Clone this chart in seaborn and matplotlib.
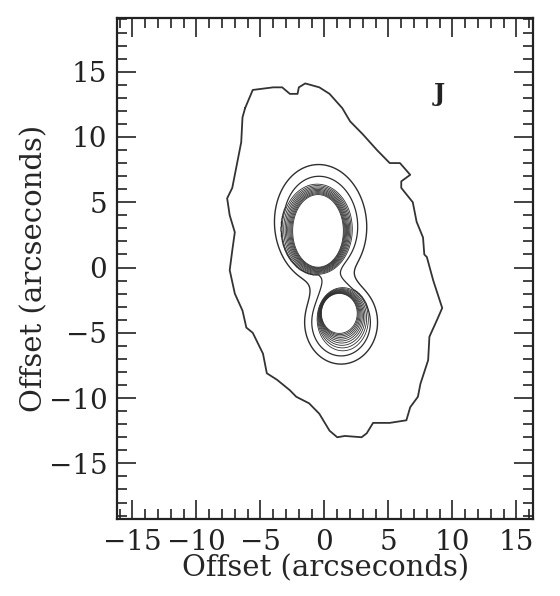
import numpy as np
import matplotlib
matplotlib.use("Agg")
import matplotlib.pyplot as plt
from matplotlib.ticker import MultipleLocator
import seaborn as sns

# ---- data (arcsec offsets) ----
# outermost isophote
outer_x = [-6.2, -5.6, -4.0, -3.3, -2.7, -2.1, -2.0, -1.5, -0.4, 0.4, 1.4, 2.0, 3.0, 4.1, 5.1, 5.9,
           6.7, 6.0, 6.0, 6.9, 7.2, 7.7, 7.8, 8.0, 8.5, 9.2, 8.8, 8.2, 8.1, 7.5, 7.3, 6.7, 6.4,
           5.1, 3.8, 3.3, 2.9, 1.6, 1.0, 0.4, -0.4, -1.2, -2.2, -2.7, -3.7, -4.5, -4.8, -5.6,
           -6.1, -6.4, -7.0, -7.4, -7.2, -7.0, -7.4, -7.6, -7.2, -7.0, -6.8, -6.5, -6.4, -6.2]
outer_y = [12.2, 13.6, 13.8, 13.8, 13.3, 13.3, 13.8, 14.1, 13.8, 13.3, 12.2, 11.2, 10.2, 9.0, 8.0,
           8.0, 7.1, 6.6, 6.1, 5.0, 3.5, 2.3, 1.0, 0.8, -1.0, -3.1, -4.0, -5.3, -7.1, -8.9, -9.9,
           -10.7, -11.7, -11.9, -11.9, -12.7, -13.0, -12.9, -13.0, -12.5, -11.2, -10.4, -9.9,
           -9.4, -8.6, -8.1, -6.6, -5.0, -4.6, -3.3, -2.0, -0.2, 1.3, 2.7, 4.0, 5.3, 6.1, 7.1,
           8.1, 9.6, 11.5, 12.2]

# two nuclei (north, south): saturated inner region and outer edge of the steep ring
hole_x = [-0.5, 1.15]
hole_y = [2.8, -3.5]
hole_a = [1.95, 1.38]
hole_b = [2.75, 1.5]
ring_x = [-0.57, 1.45]
ring_y = [2.94, -4.0]
ring_a = [2.8, 2.05]
ring_b = [3.5, 2.5]
ring_gamma = 1.0

# envelopes around the nuclei
halo_x = [-0.3, 1.3]
halo_y = [3.3, -4.2]
halo_a = [3.6, 2.85]
halo_b = [4.6, 3.2]
halo_pa = [5.0, 0.0]
halo_amp = 0.1

levels = [0.037, 0.066, 0.15, 0.25, 0.35, 0.45, 0.55, 0.65, 0.75, 0.85, 0.95, 1.05]

x_ticks = [-15, -10, -5, 0, 5, 10, 15]
y_ticks = [-15, -10, -5, 0, 5, 10, 15]
band_label = "J"

# ---- figure ----
sns.set_theme(style="ticks")
plt.rcParams["font.family"] = ["DejaVu Serif"]
plt.rcParams["mathtext.fontset"] = "dejavuserif"

fig = plt.figure(figsize=(5.6, 5.96), dpi=100)
ax = fig.add_axes([0.209, 0.129, 0.743, 0.841])
ax.set_facecolor("white")


def ell_r(X, Y, cx, cy, a, b, pa=0.0):
    t = np.deg2rad(pa)
    dx, dy = X - cx, Y - cy
    u = dx * np.cos(t) + dy * np.sin(t)
    v = -dx * np.sin(t) + dy * np.cos(t)
    return np.sqrt((u / a) ** 2 + (v / b) ** 2)


gx = np.linspace(-16.2, 16.3, 900)
gy = np.linspace(-19.3, 19.2, 1000)
X, Y = np.meshgrid(gx, gy)
H = np.zeros_like(X)
S = np.zeros_like(X)
for i in range(2):
    rh = ell_r(X, Y, halo_x[i], halo_y[i], halo_a[i], halo_b[i], halo_pa[i])
    H += halo_amp * np.exp(-rh ** 4)
    r1 = ell_r(X, Y, hole_x[i], hole_y[i], hole_a[i], hole_b[i])
    r2 = ell_r(X, Y, ring_x[i], ring_y[i], ring_a[i], ring_b[i])
    ramp = np.clip((1 - r2) / np.maximum(r1 - r2, 1e-3), 0, 1)
    S = np.maximum(S, ramp ** ring_gamma)
F = np.where(S > 0, halo_amp + S, H)

lws = [1.0, 0.9] + [0.6] * (len(levels) - 2)
ax.contour(X, Y, F, levels=levels, colors="#2e2e2e", linewidths=lws)

sns.lineplot(x=outer_x, y=outer_y, sort=False, estimator=None, ax=ax,
             color="#333333", linewidth=1.3)

ax.text(9.0, 13.3, band_label, fontsize=17, fontweight="bold", ha="center", va="center",
        color="#222222")

ax.set_xlim(-16.2, 16.3)
ax.set_ylim(-19.27, 19.12)
ax.set_xticks(x_ticks)
ax.set_yticks(y_ticks)
ax.xaxis.set_minor_locator(MultipleLocator(1))
ax.yaxis.set_minor_locator(MultipleLocator(1))
ax.tick_params(which="both", direction="in", top=True, right=True, colors="#222222",
               labelsize=20, width=1.2)
ax.tick_params(which="major", length=14, pad=7)
ax.tick_params(which="minor", length=7)
for s in ax.spines.values():
    s.set_linewidth(1.6)
    s.set_color("#222222")

ax.set_xlabel("Offset (arcseconds)", fontsize=21, labelpad=-1)
ax.set_ylabel("Offset (arcseconds)", fontsize=21, labelpad=0)

fig.savefig("out.png", dpi=100, facecolor="white")
